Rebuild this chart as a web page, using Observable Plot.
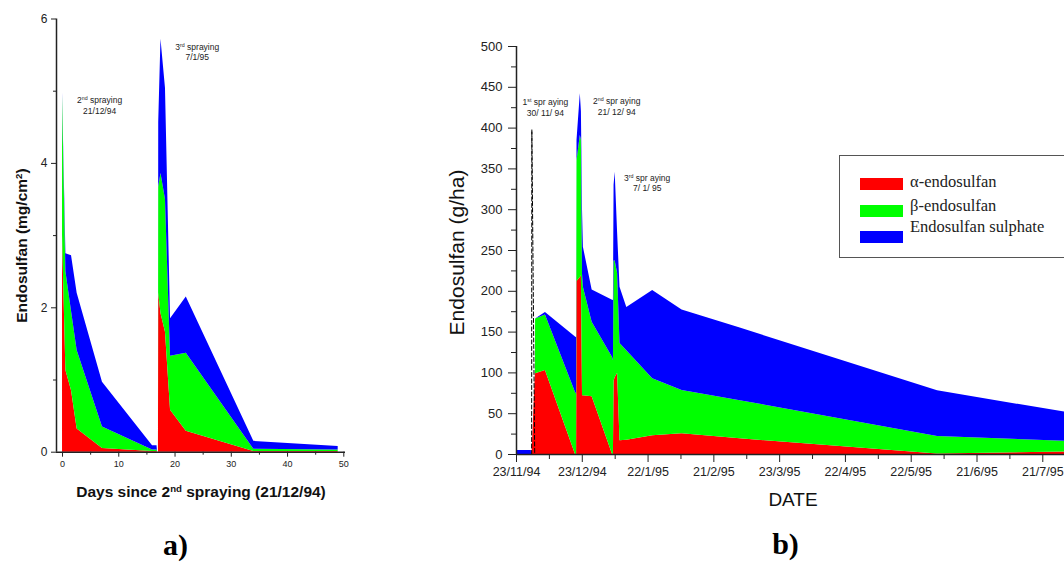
<!DOCTYPE html>
<html>
<head>
<meta charset="utf-8">
<script src="https://cdn.jsdelivr.net/npm/d3@7"></script>
<script src="https://cdn.jsdelivr.net/npm/@observablehq/plot@0.6"></script>
<style>
  html, body { margin: 0; padding: 0; background: #fff; }
  #wrap { position: relative; width: 1064px; height: 562px; overflow: hidden; background: #fff; }
  #wrap svg { position: absolute; top: 0; }
  #legend { position: absolute; left: 839px; top: 155px; width: 300px; height: 103px; border: 1.5px solid #555; box-sizing: border-box; }
  .sw { position: absolute; width: 43px; height: 12px; }
  .lb { position: absolute; font-family: "Liberation Serif", "Times New Roman", serif; font-size: 16.5px; line-height: 16px; color: #222; white-space: nowrap; }
</style>
</head>
<body>
<div id="wrap"></div>
<script>
// ---------- shared series ----------
const seriesNames = ["α-endosulfan", "β-endosulfan", "Endosulfan sulphate"];
const seriesColors = ["#ff0000", "#00ff00", "#0000ff"];

// ---------- panel a: days since 2nd spraying, mg/cm2 ----------
const daysA   = [0, 0.6, 1.6, 2.6, 7.1, 16, 16.8, 16.9, 17.05, 17.1, 17.5, 18.3, 19.2, 22, 34, 49];
const alphaA  = [3.0, 1.13, 0.85, 0.32, 0.05, 0.01, 0.01, 0, 0, 2.2, 1.92, 1.66, 0.58, 0.29, 0.01, 0.01];
const betaA   = [1.93, 1.37, 1.10, 1.09, 0.30, 0.02, 0.02, 0, 0, 1.47, 1.94, 1.84, 0.75, 1.08, 0.03, 0.02];
const sulphA  = [0.04, 0.25, 0.77, 0.79, 0.62, 0.06, 0.06, 0, 0, 0.90, 1.86, 1.54, 0.52, 0.78, 0.11, 0.05];
const yTicksA = [0, 2, 4, 6];
const yMinorA = [1, 3, 5];
const xTicksA = [0, 10, 20, 30, 40, 50];
const xMinorA = [5, 15, 25, 35, 45];
const notesA = [
  {day: 6.6, v: 4.81, label: "2{nd} spraying\n21/12/94"},
  {day: 23.95, v: 5.55, label: "3{rd} spraying\n7/1/95"}
];

// ---------- panel b: days since 23/11/94, g/ha ----------
const startB = "1994-11-23";
const daysB  = [0, 6.8, 6.85, 7.1, 8.6, 8.7, 13.2, 26.9, 27.4, 27.6, 29.1, 29.6, 30.1, 30.5, 34.5, 43.8, 44.2, 44.5, 45.0, 46.1, 47.2, 50.3, 62.1, 75.5, 102, 192, 251];
const alphaB = [0, 0, 0, 0, 98.8, 99, 103, 0, 0, 212, 217, 219, 72, 72, 70.7, 0, 0, 90, 94, 99.6, 17, 17.5, 23, 25.3, 19.2, 0.5, 3];
const betaB  = [0, 0, 0, 0, 0, 67, 68, 76, 74, 148, 174, 166, 149, 133, 91.3, 119, 115, 147, 143, 122.4, 119, 109.5, 69.7, 53.1, 46.8, 21.5, 13];
const sulphB = [5, 5, 0, 0, 0, 0, 3, 68, 69, 25, 51, 35, 79, 49, 39.7, 70, 73.6, 93, 109, 50, 69, 53, 108.3, 98.6, 89, 56, 35.5];
const firstSprayDays = [6.9, 7.0, 8.3];
const firstSprayVals = [0, 398, 0];
const yTicksB = [0, 50, 100, 150, 200, 250, 300, 350, 400, 450, 500];
const yMinorB = [25, 75, 125, 175, 225, 275, 325, 375, 425, 475];
const xTickDaysB = [0, 30, 60, 90, 120, 150, 180, 210, 240];
const xMinorDaysB = [15, 45, 75, 105, 135, 165, 195, 225, 255];
const notesB = [
  {day: 13.2, v: 426, label: "1{st} spr aying\n30/ 11/ 94"},
  {day: 45.7, v: 427, label: "2{nd} spr aying\n21/ 12/ 94"},
  {day: 59.6, v: 333, label: "3{rd} spr aying\n7/ 1/ 95"}
];

// ---------- helpers ----------
function longRows(xs, cols) {
  const rows = [];
  cols.forEach((col, s) => xs.forEach((x, i) => rows.push({x, value: col[i], series: seriesNames[s]})));
  return rows;
}
function supify(root) {
  root.querySelectorAll("text, tspan").forEach(el => {
    if ([...el.childNodes].some(n => n.nodeType === 1)) return;
    const s = el.textContent;
    if (!s.includes("{")) return;
    el.textContent = "";
    s.split(/(\{[^}]*\})/).forEach(part => {
      if (!part) return;
      if (part.startsWith("{")) {
        const t = document.createElementNS("http://www.w3.org/2000/svg", "tspan");
        t.setAttribute("baseline-shift", "super");
        t.setAttribute("font-size", "62%");
        t.textContent = part.slice(1, -1);
        el.appendChild(t);
      } else el.appendChild(document.createTextNode(part));
    });
  });
}
const sans = "'Liberation Sans', Arial, Helvetica, sans-serif";
const serif = "'Liberation Serif', 'Times New Roman', serif";
const ink = "#222";
const intFmt = d3.format("d");

// ---------- panel a ----------
const xDomA = [-1.07, 50.3];
const rowsA = longRows(daysA, [alphaA, betaA, sulphA]);
const plotA = Plot.plot({
  width: 380, height: 562,
  marginLeft: 56, marginRight: 35, marginTop: 18.5, marginBottom: 110.3,
  x: {domain: xDomA},
  y: {domain: [0, 6]},
  color: {domain: seriesNames, range: seriesColors},
  style: {fontFamily: sans, color: ink, background: "transparent", overflow: "visible"},
  marks: [
    Plot.areaY(rowsA, {x: "x", y: "value", fill: "series", order: seriesNames, curve: "linear"}),
    Plot.ruleY([0], {stroke: ink, strokeWidth: 1.5}),
    Plot.ruleX([xDomA[0]], {stroke: ink, strokeWidth: 1.5}),
    Plot.axisY({ticks: yTicksA, tickFormat: intFmt, tickSize: 5, tickPadding: 4, fontSize: 12, label: null, stroke: ink}),
    Plot.axisY({ticks: yMinorA, tickSize: 3, tickFormat: () => "", label: null, stroke: ink}),
    Plot.axisX({ticks: xTicksA, tickFormat: intFmt, tickSize: 5, tickPadding: 3, fontSize: 9, label: null, stroke: ink}),
    Plot.axisX({ticks: xMinorA, tickSize: 3, tickFormat: () => "", label: null, stroke: ink}),
    Plot.text(notesA, {x: "day", y: "v", text: "label", fontSize: 8.5, lineHeight: 1.25, fill: ink}),
    Plot.text(["Endosulfan (mg/cm{2})"], {text: d => d, frameAnchor: "left", textAnchor: "middle", lineAnchor: "middle", rotate: -90, dx: -34, dy: 10, fontSize: 15.5, fontWeight: "bold", fill: "#111"}),
    Plot.text(["Days since 2{nd} spraying (21/12/94)"], {text: d => d, frameAnchor: "bottom", textAnchor: "middle", lineAnchor: "middle", dy: 39.5, fontSize: 15.5, fontWeight: "bold", fill: "#111"}),
    Plot.text(["a)"], {text: d => d, frameAnchor: "bottom", textAnchor: "middle", lineAnchor: "middle", dx: -25.5, dy: 93, fontSize: 30, fontWeight: "bold", fontFamily: serif, fill: "#000"})
  ]
});
plotA.style.left = "0px";
supify(plotA);

// ---------- panel b ----------
const t0 = new Date(startB + "T00:00:00Z").getTime();
const toDate = d => new Date(t0 + d * 864e5);
const xDomB = [toDate(0), toDate(280)];
const rowsB = longRows(daysB.map(toDate), [alphaB, betaB, sulphB]);
const dashB = firstSprayDays.map((d, i) => ({x: toDate(d), v: firstSprayVals[i]}));
const fmt = d3.utcFormat("%-d/%-m/%y");
const plotB = Plot.plot({
  width: 700, height: 562,
  marginLeft: 86, marginRight: 0, marginTop: 46, marginBottom: 108,
  x: {type: "utc", domain: xDomB},
  y: {domain: [0, 500]},
  color: {domain: seriesNames, range: seriesColors},
  style: {fontFamily: sans, color: ink, background: "transparent", overflow: "visible"},
  marks: [
    Plot.areaY(rowsB, {x: "x", y: "value", fill: "series", order: seriesNames, curve: "linear"}),
    Plot.line(dashB, {x: "x", y: "v", stroke: "#000", strokeWidth: 1, strokeDasharray: "4,2.5"}),
    Plot.ruleY([0], {stroke: ink, strokeWidth: 1.5}),
    Plot.ruleX([xDomB[0]], {stroke: ink, strokeWidth: 1.5}),
    Plot.axisY({ticks: yTicksB, tickFormat: intFmt, tickSize: 8, tickPadding: 6, fontSize: 13, label: null, stroke: ink}),
    Plot.axisY({ticks: yMinorB, tickSize: 5, tickFormat: () => "", label: null, stroke: ink}),
    Plot.axisX({ticks: xTickDaysB.map(toDate), tickFormat: fmt, tickSize: 8, tickPadding: 5, fontSize: 12.5, label: null, stroke: ink}),
    Plot.axisX({ticks: xMinorDaysB.map(toDate), tickSize: 5, tickFormat: () => "", label: null, stroke: ink}),
    Plot.text(notesB.map(n => ({...n, x: toDate(n.day)})), {x: "x", y: "v", text: "label", fontSize: 8.5, lineHeight: 1.25, fill: ink}),
    Plot.text(["Endosulfan (g/ha)"], {text: d => d, frameAnchor: "left", textAnchor: "middle", lineAnchor: "middle", rotate: -90, dx: -59, dy: 2, fontSize: 21, fill: "#111"}),
    Plot.text(["DATE"], {text: d => d, frameAnchor: "bottom-left", textAnchor: "middle", lineAnchor: "middle", dx: 276.5, dy: 45, fontSize: 19, fill: "#111"}),
    Plot.text(["b)"], {text: d => d, frameAnchor: "bottom-left", textAnchor: "middle", lineAnchor: "middle", dx: 269, dy: 90, fontSize: 30, fontWeight: "bold", fontFamily: serif, fill: "#000"})
  ]
});
plotB.style.left = "430px";
supify(plotB);

const wrap = document.getElementById("wrap");
wrap.appendChild(plotA);
wrap.appendChild(plotB);

// ---------- legend (panel b) ----------
const legend = document.createElement("div");
legend.id = "legend";
const swTops = [21.5, 48.5, 74.5];
const lbTops = [18, 41.5, 63];
seriesNames.forEach((name, i) => {
  const sw = document.createElement("div");
  sw.className = "sw";
  sw.style.left = "20px";
  sw.style.top = swTops[i] + "px";
  sw.style.background = seriesColors[i];
  legend.appendChild(sw);
  const lb = document.createElement("div");
  lb.className = "lb";
  lb.style.left = "70px";
  lb.style.top = lbTops[i] + "px";
  lb.textContent = name;
  legend.appendChild(lb);
});
wrap.appendChild(legend);
</script>
</body>
</html>
